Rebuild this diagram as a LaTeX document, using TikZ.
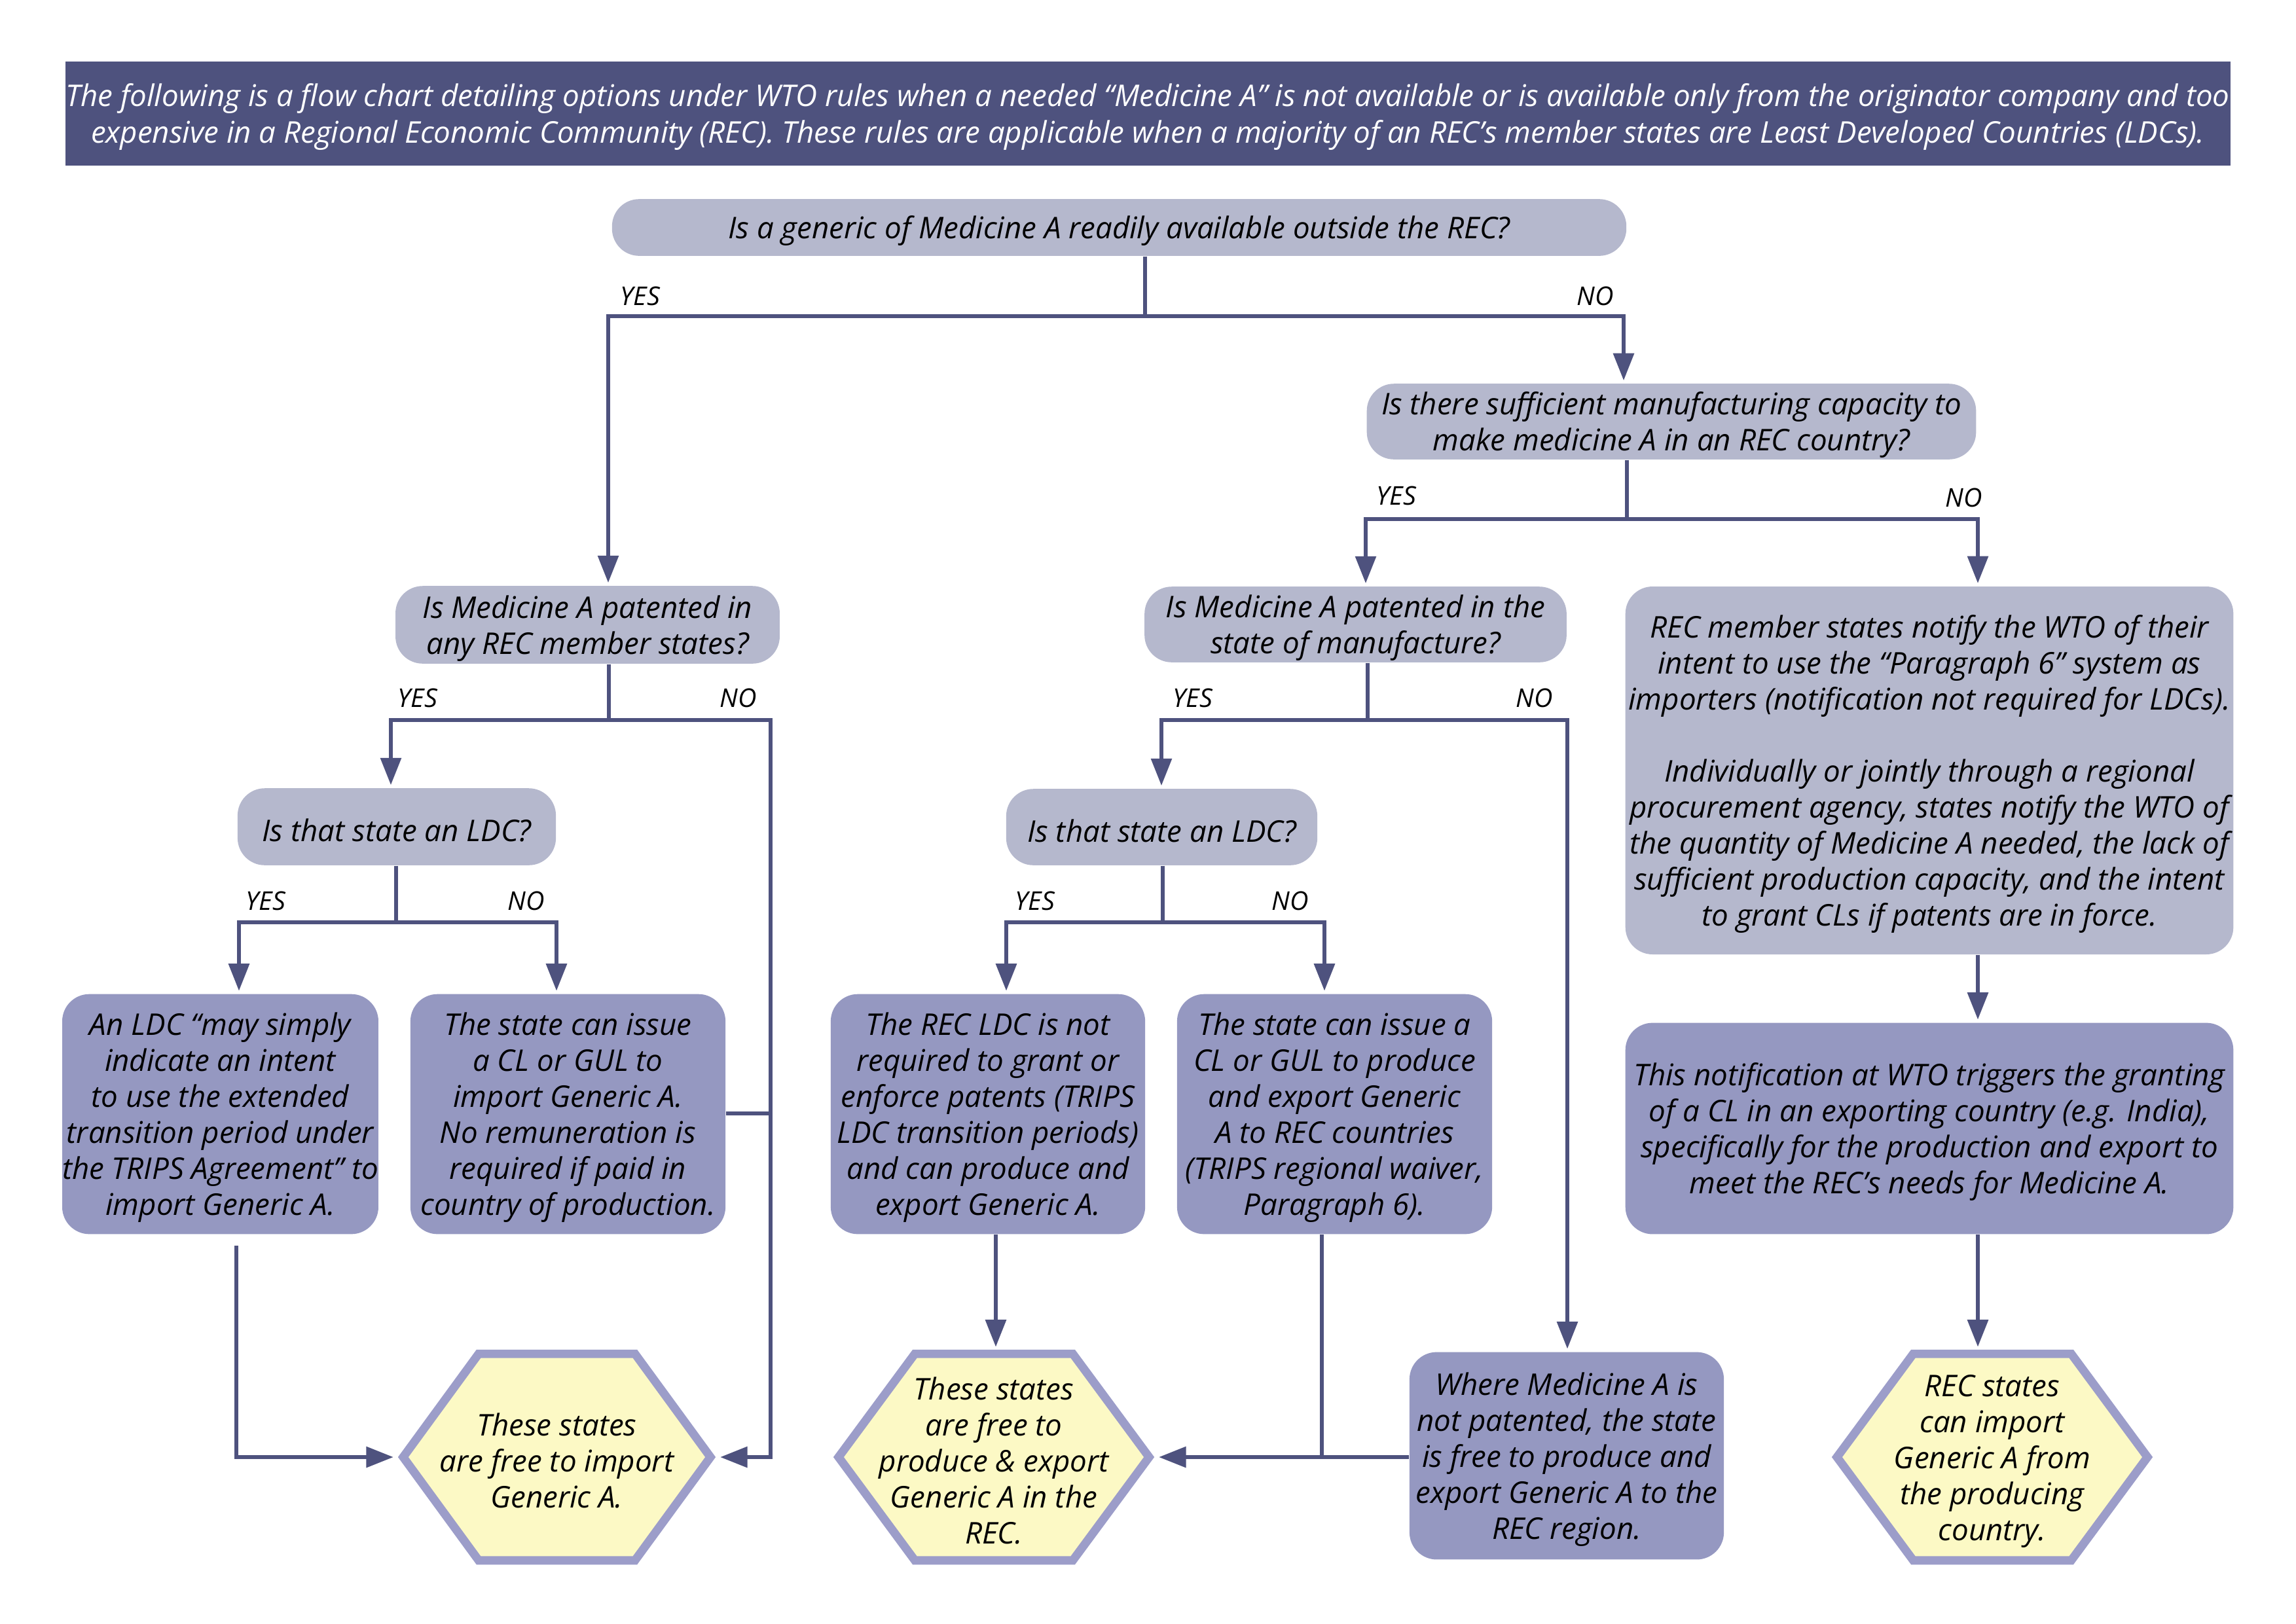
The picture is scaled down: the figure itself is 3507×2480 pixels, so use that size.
\documentclass[tikz,border=0pt]{standalone}
\usepackage{fontspec}
\setmainfont{Open Sans}
\usetikzlibrary{arrows.meta,calc,backgrounds}
\definecolor{dark}{HTML}{4E527E}
\definecolor{qfill}{HTML}{B5B8CD}
\definecolor{afill}{HTML}{9598C1}
\definecolor{hexfill}{HTML}{FCF9C5}
\definecolor{hexborder}{HTML}{9C9DC9}
\newcommand\mybody{\fontsize{11}{13.25}\selectfont\itshape}
\newcommand\myhead{\fontsize{11}{13.5}\selectfont\itshape}
\newcommand\mylbl{\fontsize{9.5}{11}\selectfont\itshape}
\newcommand\fl{\rule{0pt}{11pt}}
% box from pixel corners: style, x1, y1, x2, y2, name
\newcommand\bx[6]{\node[#1, minimum width={(#4-#2)*0.24008pt}, minimum height={(#5-#3)*0.24008pt}] (#6) at ({(#2+#4)/2},{(#3+#5)/2})}
\newcommand\hexdraw[1]{%
  \path[hexline] ([xshift=2.6pt]#1.west)
   -- ($(#1.north west)!0.25!(#1.north east)+(0.8pt,-1.55pt)$)
   -- ($(#1.north west)!0.75!(#1.north east)+(-0.8pt,-1.55pt)$)
   -- ([xshift=-2.6pt]#1.east)
   -- ($(#1.south west)!0.75!(#1.south east)+(-0.8pt,1.55pt)$)
   -- ($(#1.south west)!0.25!(#1.south east)+(0.8pt,1.55pt)$)
   -- cycle;}
\tikzset{
  txt/.style={inner sep=0pt, align=center},
  qbox/.style={txt, fill=qfill, rounded corners=10pt, font=\mybody},
  abox/.style={txt, fill=afill, rounded corners=10pt, font=\mybody},
  hdrbox/.style={txt, fill=dark, text=white, font=\myhead},
  hexbox/.style={txt, font=\mybody},
  hexline/.style={fill=hexfill, draw=hexborder, line width=3.1pt, line join=miter},
  conn/.style={draw=dark, line width=1.4pt},
  arr/.style={conn, -{Triangle[length=10pt,width=7.5pt]}, shorten >=1pt},
  lbl/.style={font=\mylbl, inner sep=0pt}
}
\begin{document}
\begin{tikzpicture}[x=0.084688mm,y=-0.084688mm]
\useasboundingbox (0,0) rectangle (3507,2480);
% header
\bx{hdrbox}{94}{94}{3413}{253}{hdr}
 {\fl The following is a flow chart detailing options under WTO rules when a needed “Medicine A” is not available or is available only from the originator company and too\\
  expensive in a Regional Economic Community (REC). These rules are applicable when a majority of an REC’s member states are Least Developed Countries (LDCs).};
% question boxes
\bx{qbox}{932}{304}{2487}{391}{q0} {\fl Is a generic of Medicine A readily available outside the REC?};
\bx{qbox}{603}{895}{1192}{1014}{q1} {\fl Is Medicine A patented in\\any REC member states?};
\bx{qbox}{362}{1204}{850}{1322}{q2} {\fl Is that state an LDC?};
\bx{qbox}{2086}{586}{3020}{702}{qc} {\fl Is there sufficient manufacturing capacity to\\make medicine A in an REC country?};
\bx{qbox}{1747}{896}{2394}{1012}{q3} {\fl Is Medicine A patented in the\\state of manufacture?};
\bx{qbox}{1536}{1205}{2013}{1322}{q4} {\fl Is that state an LDC?};
\bx{qbox}{2481}{895}{3413}{1459}{b1} {\fl REC member states notify the WTO of their\\intent to use the “Paragraph 6” system as\\importers (notification not required for LDCs).\\[13.25pt]Individually or jointly through a regional\\procurement agency, states notify the WTO of\\the quantity of Medicine A needed, the lack of\\sufficient production capacity, and the intent\\to grant CLs if patents are in force.};
% action boxes
\bx{abox}{2481}{1562}{3413}{1886}{b2} {\fl This notification at WTO triggers the granting\\of a CL in an exporting country (e.g. India),\\specifically for the production and export to\\meet the REC’s needs for Medicine A.};
\bx{abox}{95}{1518}{578}{1886}{a1} {\fl An LDC “may simply\\indicate an intent\\to use the extended\\transition period under\\the TRIPS Agreement” to\\import Generic A.};
\bx{abox}{626}{1518}{1109}{1886}{a2} {\fl The state can issue\\a CL or GUL to\\import Generic A.\\No remuneration is\\required if paid in\\country of production.};
\bx{abox}{1268}{1518}{1750}{1886}{a3} {\fl The REC LDC is not\\required to grant or\\enforce patents (TRIPS\\LDC transition periods)\\and can produce and\\export Generic A.};
\bx{abox}{1797}{1518}{2280}{1886}{a4} {\fl The state can issue a\\CL or GUL to produce\\and export Generic\\A to REC countries\\(TRIPS regional waiver,\\Paragraph 6).};
\bx{abox}{2152}{2065}{2634}{2383}{a5} {\fl Where Medicine A is\\not patented, the state\\is free to produce and\\export Generic A to the\\REC region.};
% hexagons
\bx{hexbox}{605}{2062}{1096}{2390}{h1} {\fl These states\\are free to import\\Generic A.};
\bx{hexbox}{1270}{2062}{1766}{2390}{h2} {\fl These states\\are free to\\produce \& export\\Generic A in the\\REC.};
\bx{hexbox}{2795}{2062}{3291}{2390}{h3} {\fl REC states\\can import\\Generic A from\\the producing\\country.};
\begin{pgfonlayer}{background}
\hexdraw{h1}\hexdraw{h2}\hexdraw{h3}
\end{pgfonlayer}
% junction coordinates
\coordinate (j0) at (1749,483); \coordinate (j0L) at (929,483); \coordinate (j0R) at (2480,483);
\coordinate (j1) at (930,1100); \coordinate (j1L) at (597,1100); \coordinate (j1R) at (1177,1100);
\coordinate (j1M) at (1177,1701);
\coordinate (j2) at (605,1409); \coordinate (j2L) at (365,1409); \coordinate (j2R) at (850,1409);
\coordinate (a1d) at (361,1903);
\coordinate (jc) at (2485,793); \coordinate (jcL) at (2086,793); \coordinate (jcR) at (3021,793);
\coordinate (j3) at (2089,1100); \coordinate (j3L) at (1774,1100); \coordinate (j3R) at (2394,1100);
\coordinate (j4) at (1776,1409); \coordinate (j4L) at (1537,1409); \coordinate (j4R) at (2023,1409);
\coordinate (a3x) at (1521,1886);
\coordinate (j5) at (2019,2223);
\coordinate (bx) at (3021,1459);
% connectors
\draw[conn] (q0.south -| j0) -- (j0);
\draw[arr] (j0) -- (j0L) -- (j0L |- q1.north);
\draw[arr] (j0) -- (j0R) -- (j0R |- qc.north);
\draw[conn] (q1.south -| j1) -- (j1);
\draw[arr] (j1) -- (j1L) -- (j1L |- q2.north);
\draw[arr] (j1) -- (j1R) -- (j1R |- h1.east) -- (h1.east);
\draw[conn] (a2.east |- j1M) -- (j1M);
\draw[conn] (q2.south -| j2) -- (j2);
\draw[arr] (j2) -- (j2L) -- (j2L |- a1.north);
\draw[arr] (j2) -- (j2R) -- (j2R |- a2.north);
\draw[arr] (a1d) -- (a1d |- h1.west) -- (h1.west);
\draw[conn] (qc.south -| jc) -- (jc);
\draw[arr] (jc) -- (jcL) -- (jcL |- q3.north);
\draw[arr] (jc) -- (jcR) -- (jcR |- b1.north);
\draw[conn] (q3.south -| j3) -- (j3);
\draw[arr] (j3) -- (j3L) -- (j3L |- q4.north);
\draw[arr] (j3) -- (j3R) -- (j3R |- a5.north);
\draw[conn] (q4.south -| j4) -- (j4);
\draw[arr] (j4) -- (j4L) -- (j4L |- a3.north);
\draw[arr] (j4) -- (j4R) -- (j4R |- a4.north);
\draw[arr] (a3.south -| a3x) -- (a3x |- h2.north);
\draw[conn] (a4.south -| j5) -- (j5);
\draw[arr] (a5.west |- h2.east) -- (h2.east);
\draw[arr] (b1.south -| bx) -- (bx |- b2.north);
\draw[arr] (b2.south -| bx) -- (bx |- h3.north);
% labels
\node[lbl] (y0) at (978,452) {YES};
\node[lbl] (n0) at (2437,452) {NO};
\node[lbl] (y1) at (638,1066) {YES};
\node[lbl] (n1) at (1128,1066) {NO};
\node[lbl] (y2) at (406,1376) {YES};
\node[lbl] (n2) at (804,1376) {NO};
\node[lbl] (yc) at (2133,757) {YES};
\node[lbl] (nc) at (3000,760) {NO};
\node[lbl] (y3) at (1822,1066) {YES};
\node[lbl] (n3) at (2344,1066) {NO};
\node[lbl] (y4) at (1581,1376) {YES};
\node[lbl] (n4) at (1971,1376) {NO};
\end{tikzpicture}
\end{document}
